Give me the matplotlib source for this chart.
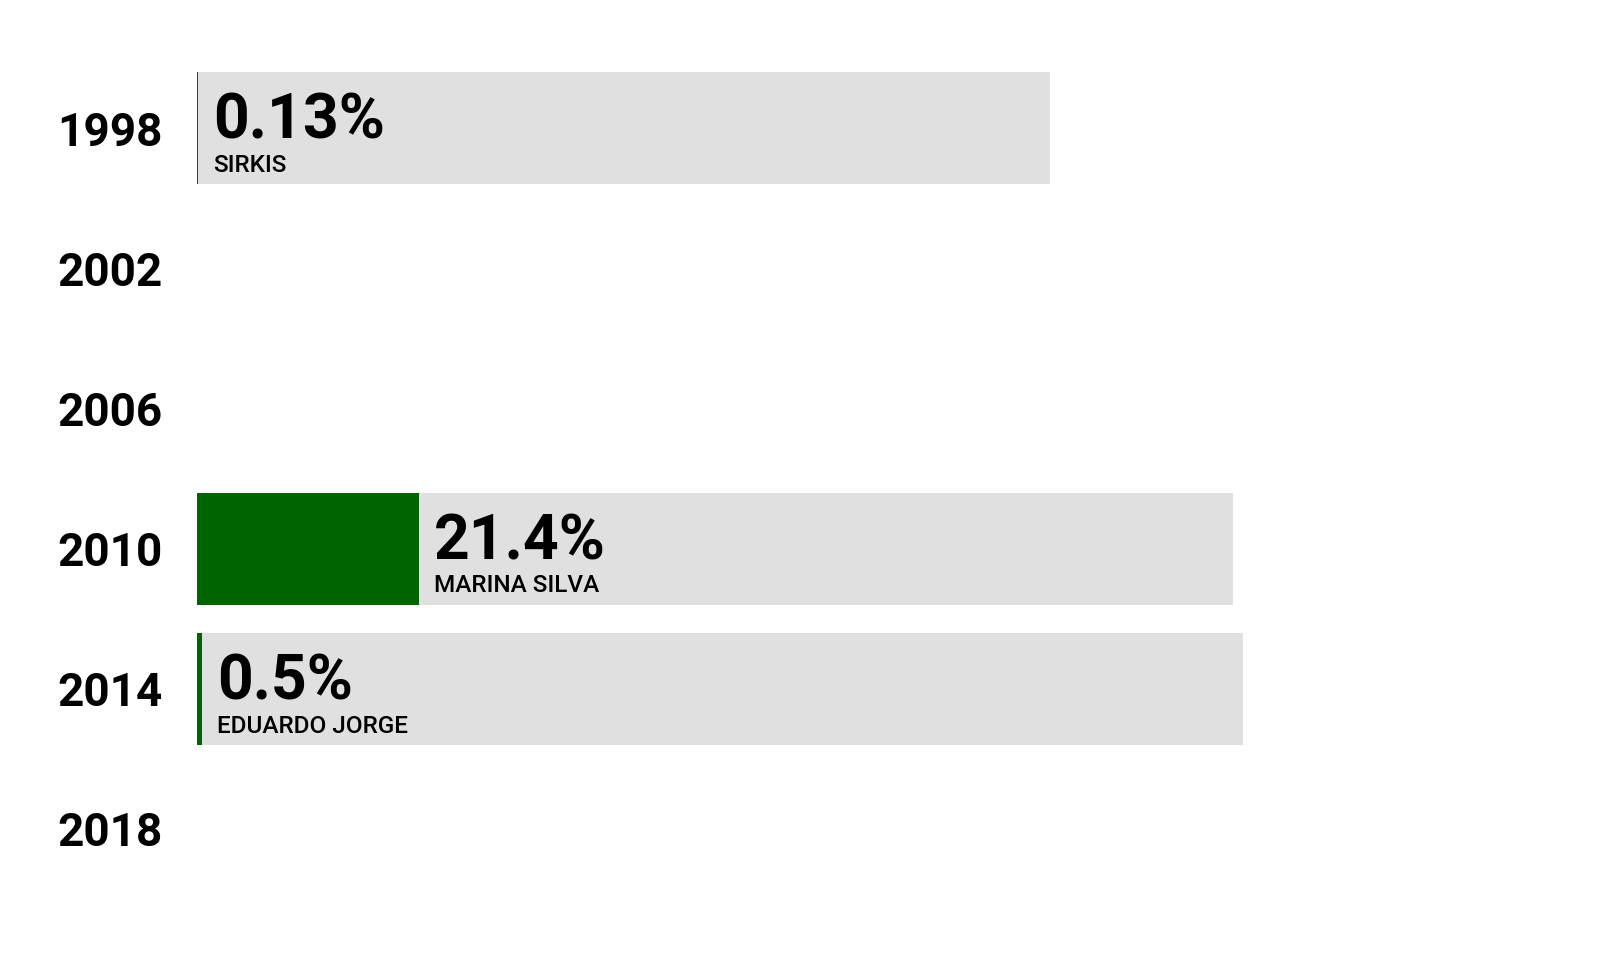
import matplotlib
matplotlib.use("Agg")
import matplotlib.pyplot as plt
import numpy as np

# dados: votação do candidato verde por eleição
anos = ["1998", "2002", "2006", "2010", "2014", "2018"]
votos = [0.13, None, None, 21.4, 0.5, None]
rotulos = ["0.13%", None, None, "21.4%", "0.5%", None]
candidatos = ["SIRKIS", None, None, "MARINA SILVA", "EDUARDO JORGE", None]
fundo = [82.3, None, None, 100.0, 100.9, None]

VERDE = "#006400"
CINZA = "#e0e0e0"

plt.rcParams['font.family'] = ['Roboto', 'DejaVu Sans']


def main():
    fig = plt.figure(figsize=(16, 9.6), dpi=100)
    ax = fig.add_axes([0.1231, 0.0635, 0.8769, 0.8761])
    y = np.arange(len(anos))

    for i in y:
        if fundo[i] is None:
            continue
        ax.barh(i, fundo[i], height=0.8, color=CINZA, linewidth=0)
        ax.barh(i, votos[i], height=0.8, color=VERDE, linewidth=0)
        # percentual e nome do candidato logo depois da barra verde
        ax.annotate(rotulos[i], xy=(votos[i], i), xytext=(11, -7.5),
                    textcoords="offset points", ha="left", va="baseline",
                    fontsize=45, fontweight="bold", color="black")
        ax.annotate(candidatos[i], xy=(votos[i], i), xytext=(11, -31.5),
                    textcoords="offset points", ha="left", va="baseline",
                    fontsize=17.5, fontweight="medium", color="black")

    ax.set_xlim(0, 135.4)
    ax.set_ylim(len(anos) - 0.5, -0.5)
    ax.set_yticks(y)
    ax.set_yticklabels(anos, fontsize=33, fontweight="bold")
    ax.tick_params(axis="y", length=0, pad=25)
    ax.set_xticks([])
    for s in ax.spines.values():
        s.set_visible(False)

    fig.savefig("out.png", dpi=100, facecolor="white")


if __name__ == "__main__":
    main()
